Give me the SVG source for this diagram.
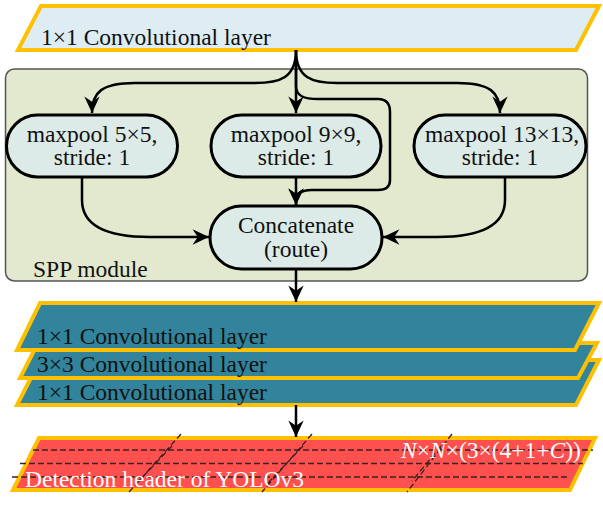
<svg xmlns="http://www.w3.org/2000/svg" width="603" height="506" viewBox="0 0 603 506" font-family="'Liberation Serif', 'Times New Roman', Tinos, 'DejaVu Serif', serif" font-size="23.5">
<style>
text{font-family:'Liberation Serif','Times New Roman',Tinos,'DejaVu Serif',serif;font-size:23.5px;fill:#111}
.w{fill:#fff}
.c{text-anchor:middle}
.para{stroke:#FFC000;stroke-width:4;stroke-linejoin:miter}
.node{fill:#DCEBE7;stroke:#000;stroke-width:3}
.edge{fill:none;stroke:#000;stroke-width:2.5}
.dash{fill:none;stroke:#3a2020;stroke-width:1.3;stroke-dasharray:6 3}
</style>
<defs>
<marker id="ah" markerUnits="userSpaceOnUse" markerWidth="20" markerHeight="20" viewBox="-15 -8 17 16" refX="0" refY="0" orient="auto">
<path d="M0,0 L-14,-6.5 L-9.5,0 L-14,6.5 Z" fill="#000"/>
</marker>
</defs>

<g id="spp">
<rect x="5.5" y="69" width="582" height="212" rx="9" fill="#E2E9CF" stroke="#555" stroke-width="1.5"/>
<text x="33" y="277">SPP module</text>
</g>

<g id="conv_top">
<polygon class="para" points="41,6 599,6 576,50 18,50" fill="#DDEDF3"/>
<text x="41" y="45">1×1 Convolutional layer</text>
</g>

<g id="pool5">
<rect class="node" x="6.5" y="115" width="171" height="62" rx="31"/>
<text class="c" x="92" y="142">maxpool 5×5,</text>
<text class="c" x="92" y="165">stride: 1</text>
</g>
<g id="pool9">
<rect class="node" x="211" y="115" width="170" height="62" rx="31"/>
<text class="c" x="296" y="142">maxpool 9×9,</text>
<text class="c" x="296" y="165">stride: 1</text>
</g>
<g id="pool13">
<rect class="node" x="414" y="115" width="172" height="62" rx="31"/>
<text class="c" x="502" y="142">maxpool 13×13,</text>
<text class="c" x="500" y="165">stride: 1</text>
</g>
<g id="concat">
<rect class="node" x="210" y="206" width="172" height="63" rx="31.5"/>
<text class="c" x="296" y="233">Concatenate</text>
<text class="c" x="296" y="257">(route)</text>
</g>

<g id="conv3">
<polygon class="para" points="40,360 599,360 576,405 17,405" fill="#31849B"/>
<text x="37" y="400">1×1 Convolutional layer</text>
</g>
<g id="conv2">
<polygon class="para" points="38,343 597,343 578,378 20,378" fill="#31849B"/>
<text x="37" y="372">3×3 Convolutional layer</text>
</g>
<g id="conv1">
<polygon class="para" points="40,303 599,303 575,350 17,350" fill="#31849B"/>
<text x="37" y="344">1×1 Convolutional layer</text>
</g>

<g id="detect">
<polygon class="para" points="39,438 595,438 570,490 13,490" fill="#FF5050"/>
<path class="dash" d="M33,450 H593 M20,463.5 H583 M12,477 H568"/>
<path class="dash" d="M181,434 L129,492 M172,446 L137,483 M312,434 L262,492 M303,446 L268,483 M452,434 L407,492 M441,446 L412,481"/>
<text class="w" x="25" y="487">Detection header of YOLOv3</text>
<text class="w" x="401" y="458"><tspan font-style="italic">N</tspan>×<tspan font-style="italic">N</tspan>×(3×(4+1+<tspan font-style="italic">C</tspan>))</text>
</g>

<g id="connectors">
<path class="edge" d="M296,50 V113" marker-end="url(#ah)"/>
<path class="edge" d="M296,50 C296,78 280,83 255,83 H135 C102,83 92,92 92,113" marker-end="url(#ah)"/>
<path class="edge" d="M296,50 C296,78 312,83 337,83 H457 C490,83 500,92 500,113" marker-end="url(#ah)"/>
<path class="edge" d="M296,60 V86 C296,96 304,99 318,99 H378 C386,99 390,104 390,112 V180 C390,187 386,190 378,190 H312 C300,190 296,194 296,205" marker-end="url(#ah)"/>
<path class="edge" d="M296,177 V205" marker-end="url(#ah)"/>
<path class="edge" d="M82,177 V200 C82,228 112,237 150,237 H209" marker-end="url(#ah)"/>
<path class="edge" d="M505,177 V200 C505,228 475,237 437,237 H383" marker-end="url(#ah)"/>
<path class="edge" d="M296,269 V302" marker-end="url(#ah)"/>
<path class="edge" d="M296,405 V437" marker-end="url(#ah)"/>
</g>
</svg>
